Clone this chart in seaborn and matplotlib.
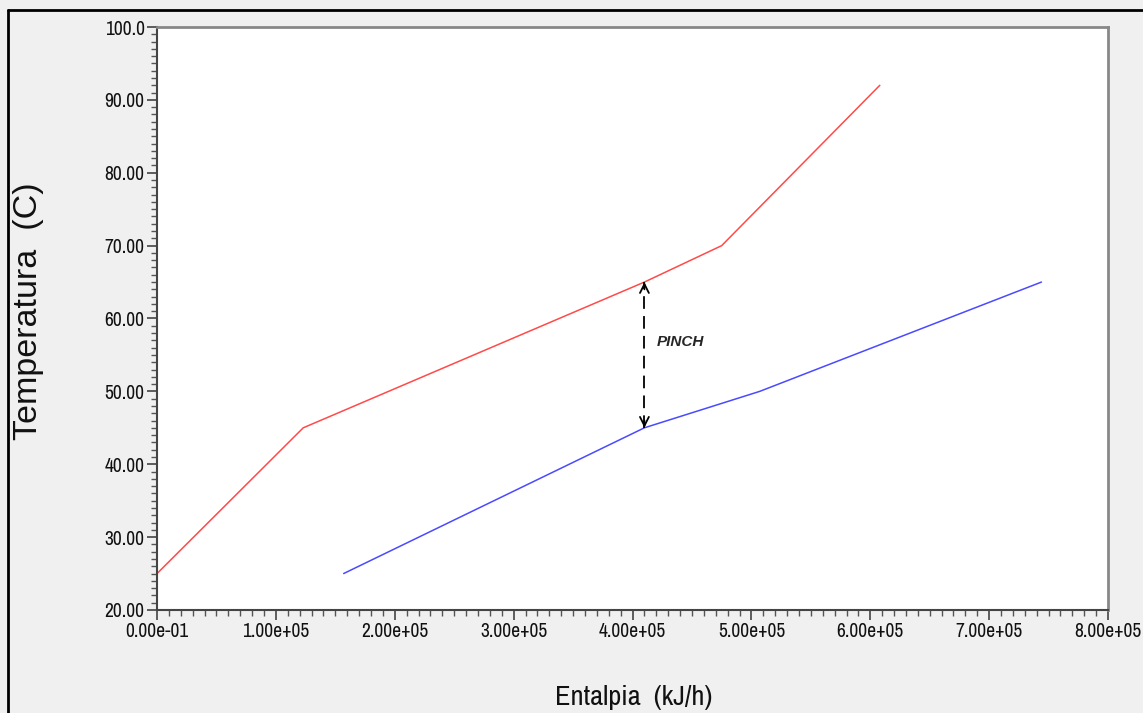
import pandas as pd
import seaborn as sns
import matplotlib.pyplot as plt
from matplotlib.lines import Line2D
from matplotlib.ticker import MultipleLocator

# composite curves (enthalpy kJ/h, temperature C)
hot_h = [0.0, 1.23e5, 4.10e5, 4.75e5, 6.08e5]
hot_t = [25.0, 45.0, 65.0, 70.0, 92.0]
cold_h = [1.57e5, 4.10e5, 5.07e5, 7.44e5]
cold_t = [25.0, 45.0, 50.0, 65.0]

pinch_h = 4.10e5
pinch_hot = 65.0
pinch_cold = 45.0

x_ticks = [0, 1e5, 2e5, 3e5, 4e5, 5e5, 6e5, 7e5, 8e5]
x_labels = ["0.00e-01", "1.00e+05", "2.00e+05", "3.00e+05", "4.00e+05",
            "5.00e+05", "6.00e+05", "7.00e+05", "8.00e+05"]
y_ticks = [20, 30, 40, 50, 60, 70, 80, 90, 100]
y_labels = ["20.00", "30.00", "40.00", "50.00", "60.00", "70.00",
            "80.00", "90.00", "100.0"]

hot = pd.DataFrame({"h": hot_h, "t": hot_t})
cold = pd.DataFrame({"h": cold_h, "t": cold_t})

sns.set_style("white")
plt.rcParams["font.family"] = ["Archivo Narrow", "Liberation Sans", "DejaVu Sans"]
wide = ["Liberation Sans", "DejaVu Sans"]

fig = plt.figure(figsize=(11.43, 7.13), dpi=100, facecolor="#f0f0f0")
ax = fig.add_axes([0.1374, 0.1445, 0.9694 - 0.1374, 0.9621 - 0.1445])
ax.set_facecolor("white")

sns.lineplot(data=hot, x="h", y="t", sort=False, estimator=None,
             color="#ff4a4a", lw=1.1, ax=ax)
sns.lineplot(data=cold, x="h", y="t", sort=False, estimator=None,
             color="#4a4aff", lw=1.1, ax=ax)

# pinch marker: dashed shaft + solid open heads
ax.plot([pinch_h, pinch_h], [pinch_cold, pinch_hot], color="black", lw=1.3,
        dashes=(7, 4))
for tip, tail in [(pinch_hot, pinch_hot - 1), (pinch_cold, pinch_cold + 1)]:
    ax.annotate("", xy=(pinch_h, tip), xytext=(pinch_h, tail),
                arrowprops=dict(arrowstyle="->", color="black", lw=1.3,
                                shrinkA=0, shrinkB=0, mutation_scale=16))
ax.text(pinch_h + 0.10e5, (pinch_hot + pinch_cold) / 2 + 1.8, "PINCH",
        fontsize=11, fontweight="bold", fontstyle="italic",
        family=wide, va="center")

ax.set_xlim(0, 8e5)
ax.set_ylim(20, 100)
ax.set_xticks(x_ticks)
ax.set_xticklabels(x_labels, fontsize=14)
ax.set_yticks(y_ticks)
ax.set_yticklabels(y_labels, fontsize=14)
ax.xaxis.set_minor_locator(MultipleLocator(1e4))
ax.yaxis.set_minor_locator(MultipleLocator(1))
ax.tick_params(which="major", direction="out", length=7, width=1.2,
               color="#444444", labelcolor="#111111", pad=2, left=True, bottom=True)
ax.tick_params(which="minor", direction="out", length=4, width=1.0,
               color="#555555", left=True, bottom=True)

for side in ["left", "bottom"]:
    ax.spines[side].set_color("#444444")
    ax.spines[side].set_linewidth(1.5)
for side in ["top", "right"]:
    ax.spines[side].set_color("#888888")
    ax.spines[side].set_linewidth(2)

ax.set_xlabel("")
ax.set_ylabel("")
fig.text(0.554, 0.022, "Entalpia  (kJ/h)", fontsize=20.5, ha="center", va="center",
         color="#111111")
fig.text(0.025, 0.564, "Temperatura  (C)", fontsize=24.5, rotation=90,
         ha="center", va="center", family=wide, color="#111111")

# outer frame
fig.add_artist(Line2D([0.007, 0.007], [0, 0.986], color="black", lw=2,
                      transform=fig.transFigure))
fig.add_artist(Line2D([0.007, 1], [0.986, 0.986], color="black", lw=2,
                      transform=fig.transFigure))

fig.savefig("out.png", dpi=100, facecolor=fig.get_facecolor())
